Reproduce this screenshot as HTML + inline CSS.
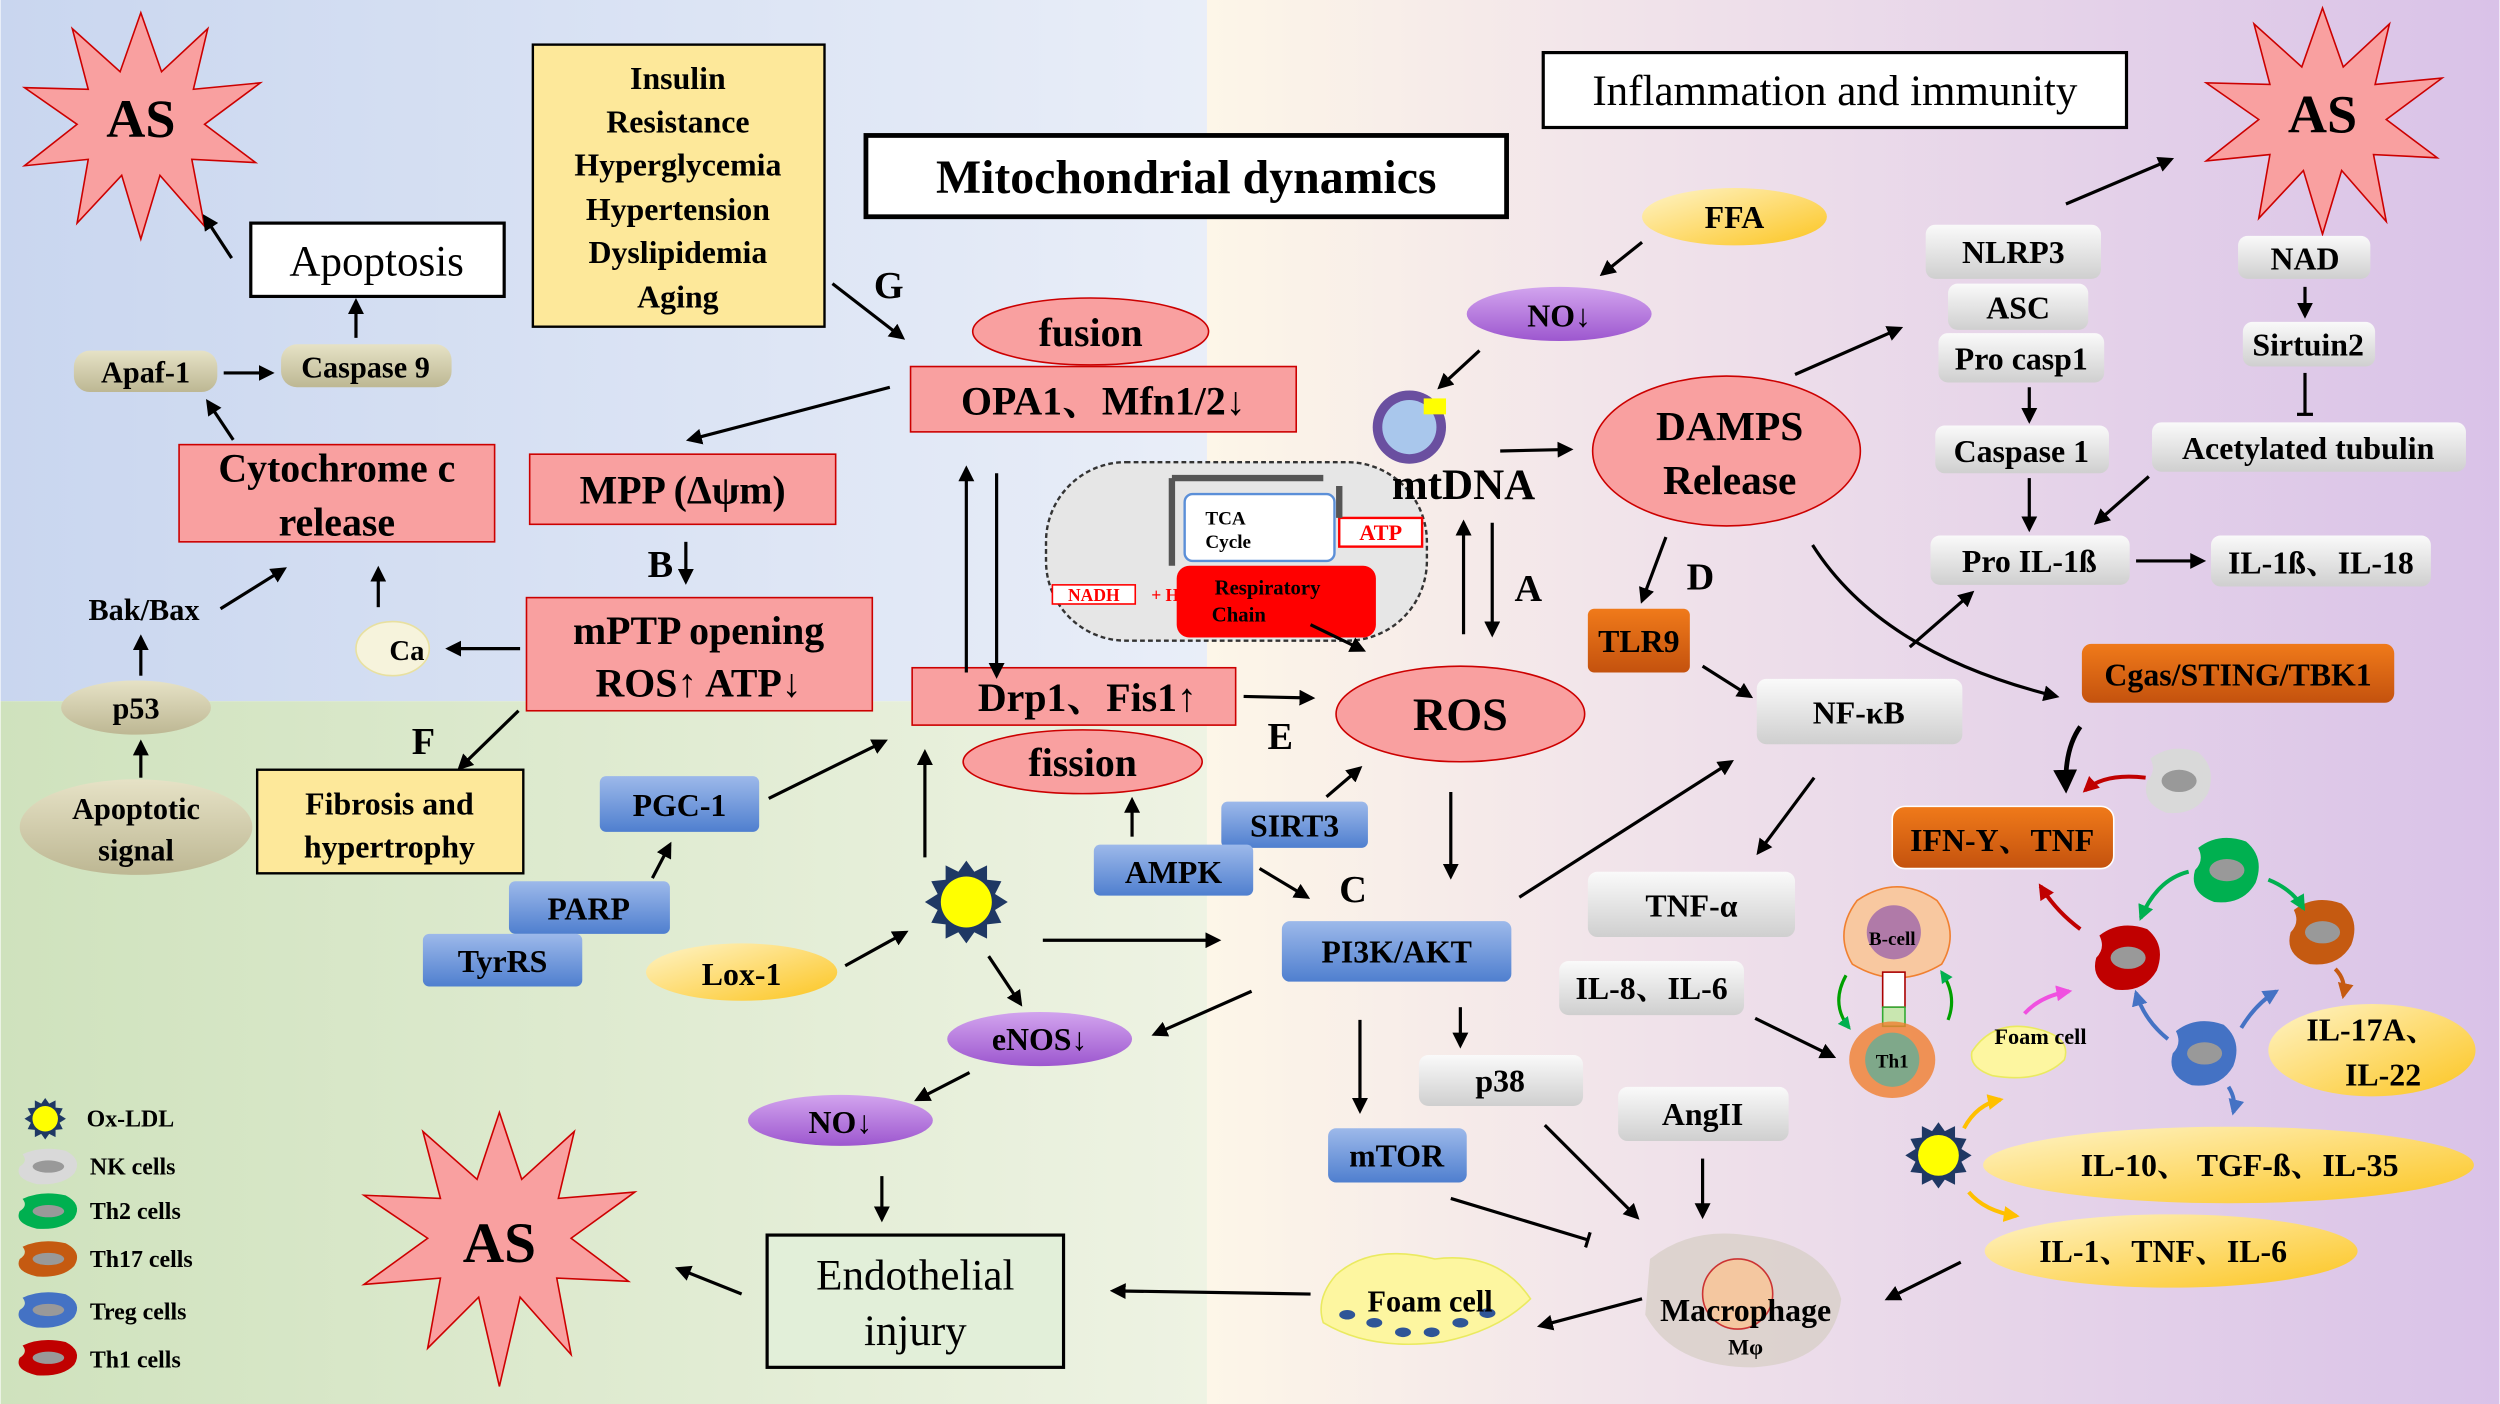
<!DOCTYPE html>
<html><head><meta charset="utf-8"><style>
html,body{margin:0;padding:0;width:2500px;height:1404px;overflow:hidden}
svg{display:block}
text{font-family:"Liberation Serif","Noto Serif CJK SC",serif;font-weight:bold;fill:#000}
</style></head><body>
<svg width="2500" height="1404" viewBox="0 0 1568 881" xmlns="http://www.w3.org/2000/svg">
<defs>
<linearGradient id="bgL" x1="0" y1="0" x2="1" y2="0"><stop offset="0" stop-color="#c9d6ef"/><stop offset="1" stop-color="#e9eef8"/></linearGradient>
<linearGradient id="bgG" x1="0" y1="0" x2="1" y2="0"><stop offset="0" stop-color="#cfe2bd"/><stop offset="1" stop-color="#eef3e3"/></linearGradient>
<linearGradient id="bgR" x1="0" y1="0" x2="1" y2="0"><stop offset="0" stop-color="#fdf6e8"/><stop offset="0.35" stop-color="#f0e2ea"/><stop offset="1" stop-color="#d9c2e8"/></linearGradient>
<linearGradient id="gray" x1="0" y1="0" x2="0" y2="1"><stop offset="0" stop-color="#fafafa"/><stop offset="1" stop-color="#cfcfcf"/></linearGradient>
<linearGradient id="tan" x1="0" y1="0" x2="0" y2="1"><stop offset="0" stop-color="#e6e2c6"/><stop offset="1" stop-color="#bdb793"/></linearGradient>
<linearGradient id="blue" x1="0" y1="0" x2="0" y2="1"><stop offset="0" stop-color="#9db9ea"/><stop offset="1" stop-color="#4f7fcf"/></linearGradient>
<linearGradient id="yel" x1="0" y1="0" x2="1" y2="1"><stop offset="0" stop-color="#fff4c8"/><stop offset="1" stop-color="#fcc520"/></linearGradient>
<linearGradient id="pur" x1="0" y1="0" x2="0" y2="1"><stop offset="0" stop-color="#d2a4ee"/><stop offset="1" stop-color="#9d57cf"/></linearGradient>
<linearGradient id="org" x1="0" y1="0" x2="0" y2="1"><stop offset="0" stop-color="#f07a1a"/><stop offset="1" stop-color="#c4520e"/></linearGradient>
<marker id="ar" viewBox="0 0 10 10" refX="8" refY="5" markerWidth="5" markerHeight="5" orient="auto"><path d="M0,0L10,5L0,10z" fill="#000"/></marker>
<marker id="arR" viewBox="0 0 10 10" refX="8" refY="5" markerWidth="4" markerHeight="4" orient="auto"><path d="M0,0L10,5L0,10z" fill="#c00000"/></marker>
<marker id="arG" viewBox="0 0 10 10" refX="8" refY="5" markerWidth="4" markerHeight="4" orient="auto"><path d="M0,0L10,5L0,10z" fill="#00b050"/></marker>
<marker id="arB" viewBox="0 0 10 10" refX="8" refY="5" markerWidth="4" markerHeight="4" orient="auto"><path d="M0,0L10,5L0,10z" fill="#4472c4"/></marker>
<marker id="arO" viewBox="0 0 10 10" refX="8" refY="5" markerWidth="4" markerHeight="4" orient="auto"><path d="M0,0L10,5L0,10z" fill="#c55a11"/></marker>
<marker id="arY" viewBox="0 0 10 10" refX="8" refY="5" markerWidth="4" markerHeight="4" orient="auto"><path d="M0,0L10,5L0,10z" fill="#ffc000"/></marker>
<marker id="arP" viewBox="0 0 10 10" refX="8" refY="5" markerWidth="4" markerHeight="4" orient="auto"><path d="M0,0L10,5L0,10z" fill="#f050e0"/></marker>
<marker id="bar" viewBox="0 0 10 10" refX="5" refY="5" markerWidth="5" markerHeight="5" orient="auto"><path d="M5,0V10" stroke="#000" stroke-width="2"/></marker>
<g id="sun"><polygon points="0,-26 5,-19 13,-23 13,-14 22,-13 18,-5 26,0 18,5 22,13 13,14 13,23 5,19 0,26 -5,19 -13,23 -13,14 -22,13 -18,5 -26,0 -18,-5 -22,-13 -13,-14 -13,-23 -5,-19" fill="#1f3864"/><circle r="16" fill="#ffff00"/></g>
<g id="cell"><path d="M-18,-14 Q-5,-24 12,-18 Q24,-8 18,8 Q10,22 -8,20 Q-24,14 -20,0 Q-14,-6 -18,-14z"/><ellipse cx="0" cy="0" rx="11" ry="7" fill="#999"/></g>
</defs>
<rect x="0" y="0" width="757" height="440" fill="url(#bgL)"/>
<rect x="0" y="440" width="757" height="441" fill="url(#bgG)"/>
<rect x="757" y="0" width="811" height="881" fill="url(#bgR)"/>

<!-- stars -->
<polygon points="88,8 101,45 130,18 121,56 163,52 128,78 160,102 120,100 128,142 100,110 88,150 76,110 48,140 55,100 15,104 48,78 15,55 55,56 45,18 75,45" fill="#f9a0a0" stroke="#c00" stroke-width="1"/>
<text x="88" y="86" font-size="34" text-anchor="middle">AS</text>
<polygon points="1457,5 1470,42 1499,15 1490,53 1532,49 1497,75 1529,99 1489,97 1497,139 1469,107 1457,147 1445,107 1417,137 1424,97 1384,101 1417,75 1384,52 1424,53 1414,15 1444,42" fill="#f9a0a0" stroke="#c00" stroke-width="1"/>
<text x="1457" y="83" font-size="34" text-anchor="middle">AS</text>
<polygon points="313,698 327,740 360,710 350,752 398,748 358,777 394,804 349,802 358,850 326,814 313,870 300,814 268,846 276,802 228,806 268,777 228,750 276,752 265,710 299,740" fill="#f9a0a0" stroke="#c00" stroke-width="1"/>
<text x="313" y="792" font-size="36" text-anchor="middle">AS</text>

<!-- boxes -->
<rect x="157" y="140" width="159" height="46" fill="#fff" stroke="#000" stroke-width="2"/>
<text x="236" y="173" font-size="27" font-weight="normal" text-anchor="middle" style="font-weight:normal">Apoptosis</text>
<rect x="334" y="28" width="183" height="177" fill="#fde89a" stroke="#000" stroke-width="1.5"/>
<g font-size="20" text-anchor="middle"><text x="425" y="56">Insulin</text><text x="425" y="83">Resistance</text><text x="425" y="110">Hyperglycemia</text><text x="425" y="138">Hypertension</text><text x="425" y="165">Dyslipidemia</text><text x="425" y="193">Aging</text></g>
<rect x="543" y="85" width="402" height="51" fill="#fff" stroke="#000" stroke-width="3"/>
<text x="744" y="121" font-size="30" text-anchor="middle">Mitochondrial dynamics</text>
<rect x="968" y="33" width="366" height="47" fill="#fff" stroke="#000" stroke-width="2"/>
<text x="1151" y="66" font-size="27" text-anchor="middle" style="font-weight:normal">Inflammation and immunity</text>

<rect x="46" y="220" width="90" height="26" rx="10" fill="url(#tan)"/><text x="91" y="240" font-size="19" text-anchor="middle">Apaf-1</text>
<rect x="176" y="216" width="107" height="27" rx="10" fill="url(#tan)"/><text x="229" y="237" font-size="19" text-anchor="middle">Caspase 9</text>
<rect x="112" y="279" width="198" height="61" fill="#f9a0a0" stroke="#c00" stroke-width="1"/>
<text x="211" y="302" font-size="25" text-anchor="middle">Cytochrome c</text><text x="211" y="336" font-size="25" text-anchor="middle">release</text>
<rect x="332" y="285" width="192" height="44" fill="#f9a0a0" stroke="#c00" stroke-width="1"/>
<text x="428" y="316" font-size="25" text-anchor="middle">MPP (Δψm)</text>
<text x="406" y="362" font-size="24">B</text><line x1="430" y1="340" x2="430" y2="365" stroke="#000" stroke-width="2" marker-end="url(#ar)"/>
<rect x="330" y="375" width="217" height="71" fill="#f9a0a0" stroke="#c00" stroke-width="1"/>
<text x="438" y="404" font-size="25" text-anchor="middle">mPTP opening</text><text x="438" y="437" font-size="25" text-anchor="middle">ROS↑ ATP↓</text>
<ellipse cx="246" cy="407" rx="23" ry="17" fill="#f6f3dc" stroke="#e8e0a0"/><text x="255" y="414" font-size="18" text-anchor="middle">Ca</text>
<text x="90" y="389" font-size="19" text-anchor="middle">Bak/Bax</text>
<ellipse cx="85" cy="444" rx="47" ry="17" fill="url(#tan)"/><text x="85" y="451" font-size="19" text-anchor="middle">p53</text>
<ellipse cx="85" cy="519" rx="73" ry="30" fill="url(#tan)"/><text x="85" y="514" font-size="19" text-anchor="middle">Apoptotic</text><text x="85" y="540" font-size="19" text-anchor="middle">signal</text>
<text x="258" y="473" font-size="24">F</text>
<rect x="161" y="483" width="167" height="65" fill="#fde89a" stroke="#000" stroke-width="1.5"/>
<text x="244" y="511" font-size="20" text-anchor="middle">Fibrosis and</text><text x="244" y="538" font-size="20" text-anchor="middle">hypertrophy</text>

<rect x="376" y="487" width="100" height="35" rx="4" fill="url(#blue)"/><text x="426" y="512" font-size="20" text-anchor="middle">PGC-1</text>
<rect x="319" y="553" width="101" height="33" rx="4" fill="url(#blue)"/><text x="369" y="577" font-size="20" text-anchor="middle">PARP</text>
<rect x="265" y="586" width="100" height="33" rx="4" fill="url(#blue)"/><text x="315" y="610" font-size="20" text-anchor="middle">TyrRS</text>
<rect x="766" y="503" width="92" height="29" rx="4" fill="url(#blue)"/><text x="812" y="525" font-size="20" text-anchor="middle">SIRT3</text>
<rect x="686" y="530" width="100" height="32" rx="4" fill="url(#blue)"/><text x="736" y="554" font-size="20" text-anchor="middle">AMPK</text>
<text x="548" y="187" font-size="24">G</text>

<ellipse cx="684" cy="208" rx="74" ry="21" fill="#f9a0a0" stroke="#c00"/><text x="684" y="217" font-size="25" text-anchor="middle">fusion</text>
<rect x="571" y="230" width="242" height="41" fill="#f9a0a0" stroke="#c00"/><text x="692" y="260" font-size="25" text-anchor="middle">OPA1、Mfn1/2↓</text>
<rect x="572" y="419" width="203" height="36" fill="#f9a0a0" stroke="#c00"/><text x="682" y="446" font-size="25" text-anchor="middle">Drp1、Fis1↑</text>
<ellipse cx="679" cy="478" rx="75" ry="20" fill="#f9a0a0" stroke="#c00"/><text x="679" y="487" font-size="25" text-anchor="middle">fission</text>
<text x="795" y="470" font-size="24">E</text>

<!-- mitochondrion -->
<rect x="656" y="290" width="239" height="112" rx="50" fill="#e6e6e6" stroke="#333" stroke-dasharray="3,2" stroke-width="1.5"/>
<rect x="738" y="355" width="125" height="45" rx="8" fill="#f00"/>
<rect x="743" y="310" width="94" height="42" rx="5" fill="#fff" stroke="#5b8fd8" stroke-width="1.5"/>
<text x="756" y="329" font-size="12">TCA</text><text x="756" y="344" font-size="12">Cycle</text>
<rect x="840" y="325" width="52" height="18" fill="#fff" stroke="#f00" stroke-width="1.5"/><text x="866" y="339" font-size="14" text-anchor="middle" fill="#f00" style="fill:#f00">ATP</text>
<text x="795" y="373" font-size="13" text-anchor="middle">Respiratory</text><text x="777" y="390" font-size="13" text-anchor="middle">Chain</text>
<rect x="660" y="367" width="52" height="12" fill="#fff" stroke="#f00"/><text x="686" y="377" font-size="11" text-anchor="middle" style="fill:#f00">NADH</text><text x="722" y="377" font-size="11" style="fill:#f00">+ H</text>
<path d="M735,300H830M735,300V355M840,305V325" stroke="#555" stroke-width="4" fill="none"/>
<circle cx="884" cy="268" r="23" fill="#6a4fa0"/><circle cx="884" cy="268" r="17" fill="#a9c7ec"/><rect x="893" y="250" width="14" height="10" fill="#ff0"/>
<text x="918" y="313" font-size="27" text-anchor="middle">mtDNA</text>
<text x="950" y="377" font-size="24">A</text>
<ellipse cx="916" cy="448" rx="78" ry="30" fill="#f9a0a0" stroke="#c00"/><text x="916" y="458" font-size="29" text-anchor="middle">ROS</text>
<ellipse cx="1083" cy="283" rx="84" ry="47" fill="#f9a0a0" stroke="#c00"/><text x="1085" y="276" font-size="26" text-anchor="middle">DAMPS</text><text x="1085" y="310" font-size="26" text-anchor="middle">Release</text>
<ellipse cx="1088" cy="136" rx="58" ry="18" fill="url(#yel)"/><text x="1088" y="143" font-size="20" text-anchor="middle">FFA</text>
<ellipse cx="978" cy="197" rx="58" ry="17" fill="url(#pur)"/><text x="978" y="205" font-size="20" text-anchor="middle">NO↓</text>
<text x="1058" y="370" font-size="24">D</text>
<rect x="996" y="382" width="64" height="40" rx="4" fill="url(#org)"/><text x="1028" y="409" font-size="20" text-anchor="middle">TLR9</text>
<rect x="1102" y="426" width="129" height="41" rx="6" fill="url(#gray)"/><text x="1166" y="454" font-size="20" text-anchor="middle">NF-κB</text>

<g font-size="20" text-anchor="middle">
<rect x="1208" y="141" width="110" height="34" rx="6" fill="url(#gray)"/><text x="1263" y="165">NLRP3</text>
<rect x="1222" y="178" width="88" height="29" rx="6" fill="url(#gray)"/><text x="1266" y="200">ASC</text>
<rect x="1216" y="209" width="104" height="31" rx="6" fill="url(#gray)"/><text x="1268" y="232">Pro casp1</text>
<rect x="1214" y="267" width="109" height="30" rx="6" fill="url(#gray)"/><text x="1268" y="290">Caspase 1</text>
<rect x="1211" y="336" width="125" height="31" rx="6" fill="url(#gray)"/><text x="1273" y="359">Pro IL-1ß</text>
<rect x="1387" y="336" width="138" height="32" rx="6" fill="url(#gray)"/><text x="1456" y="360">IL-1ß、IL-18</text>
<rect x="1404" y="148" width="83" height="27" rx="6" fill="url(#gray)"/><text x="1446" y="169">NAD</text>
<rect x="1407" y="202" width="83" height="28" rx="6" fill="url(#gray)"/><text x="1448" y="223">Sirtuin2</text>
<rect x="1350" y="265" width="197" height="31" rx="6" fill="url(#gray)"/><text x="1448" y="288">Acetylated tubulin</text>
<rect x="1306" y="404" width="196" height="37" rx="6" fill="url(#org)"/><text x="1404" y="430">Cgas/STING/TBK1</text>
<rect x="1187" y="506" width="139" height="39" rx="8" fill="url(#org)" stroke="#fff"/><text x="1256" y="534">IFN-Y、TNF</text>
<rect x="804" y="578" width="144" height="38" rx="5" fill="url(#blue)"/><text x="876" y="604">PI3K/AKT</text>
<rect x="996" y="547" width="130" height="41" rx="6" fill="url(#gray)"/><text x="1061" y="575">TNF-α</text>
<rect x="978" y="603" width="116" height="34" rx="6" fill="url(#gray)"/><text x="1036" y="627">IL-8、IL-6</text>
<rect x="1015" y="682" width="107" height="34" rx="6" fill="url(#gray)"/><text x="1068" y="706">AngII</text>
<rect x="890" y="662" width="103" height="32" rx="6" fill="url(#gray)"/><text x="941" y="685">p38</text>
<rect x="833" y="708" width="87" height="34" rx="5" fill="url(#blue)"/><text x="876" y="732">mTOR</text>
<ellipse cx="465" cy="610" rx="60" ry="18" fill="url(#yel)"/><text x="465" y="618">Lox-1</text>
<ellipse cx="652" cy="652" rx="58" ry="17" fill="url(#pur)"/><text x="652" y="659">eNOS↓</text>
<ellipse cx="527" cy="703" rx="58" ry="16" fill="url(#pur)"/><text x="527" y="711">NO↓</text>
<ellipse cx="1488" cy="659" rx="65" ry="29" fill="url(#yel)"/><text x="1488" y="653">IL-17A、</text><text x="1495" y="681">IL-22</text>
<ellipse cx="1398" cy="731" rx="154" ry="24" fill="url(#yel)"/><text x="1405" y="738">IL-10、 TGF-ß、IL-35</text>
<ellipse cx="1362" cy="785" rx="117" ry="23" fill="url(#yel)"/><text x="1357" y="792">IL-1、TNF、IL-6</text>
</g>
<text x="840" y="566" font-size="24">C</text>
<use href="#sun" x="606" y="566"/>
<use href="#sun" x="1216" y="725" transform="translate(1216 725) scale(0.8) translate(-1216 -725)"/>

<rect x="481" y="775" width="186" height="83" fill="#e2efd9" stroke="#000" stroke-width="2"/>
<text x="574" y="809" font-size="27" text-anchor="middle" style="font-weight:normal">Endothelial</text><text x="574" y="844" font-size="27" text-anchor="middle" style="font-weight:normal">injury</text>

<!-- foam cell -->
<path d="M838,800 Q860,780 900,790 Q940,785 960,815 Q940,835 905,842 Q860,848 830,830 Q825,815 838,800z" fill="#fdf6a0" stroke="#eaea60"/>
<g fill="#2f5597"><ellipse cx="845" cy="825" rx="5" ry="3"/><ellipse cx="862" cy="830" rx="5" ry="3"/><ellipse cx="880" cy="836" rx="5" ry="3"/><ellipse cx="898" cy="836" rx="5" ry="3"/><ellipse cx="916" cy="830" rx="5" ry="3"/><ellipse cx="933" cy="824" rx="5" ry="3"/></g>
<text x="897" y="823" font-size="19" text-anchor="middle">Foam cell</text>
<path d="M1035,790 Q1060,770 1095,775 Q1145,780 1155,815 Q1150,855 1100,858 Q1050,858 1032,825z" fill="#d8d0c8" opacity="0.8"/>
<circle cx="1090" cy="812" r="22" fill="#f4c7a0" stroke="#c33"/>
<text x="1095" y="829" font-size="20" text-anchor="middle">Macrophage</text><text x="1095" y="850" font-size="14" text-anchor="middle">Mφ</text>

<!-- B cell / Th1 -->
<path d="M1165,565 Q1190,548 1215,565 Q1230,585 1218,605 Q1190,622 1162,605 Q1150,585 1165,565z" fill="#f8c8a0" stroke="#f08030"/>
<circle cx="1188" cy="585" r="17" fill="#b07aa8"/><text x="1187" y="593" font-size="12" text-anchor="middle">B-cell</text>
<rect x="1181" y="610" width="14" height="22" fill="#fff" stroke="#a00"/>
<rect x="1181" y="632" width="14" height="12" fill="#c9e7b0" stroke="#3a3"/>
<ellipse cx="1187" cy="665" rx="27" ry="24" fill="#f08030" opacity="0.8"/><circle cx="1187" cy="665" r="17" fill="#7fa88a"/><text x="1187" y="670" font-size="12" text-anchor="middle">Th1</text>
<path d="M1158,612 Q1148,630 1160,645" stroke="#00a000" stroke-width="2" fill="none" marker-end="url(#arG)"/>
<path d="M1222,640 Q1228,625 1218,610" stroke="#00a000" stroke-width="2" fill="none" marker-end="url(#arG)"/>
<path d="M1237,660 Q1250,640 1275,645 Q1300,650 1295,665 Q1280,680 1250,675 Q1235,670 1237,660z" fill="#fdf6a0" stroke="#eaea60"/>
<text x="1280" y="655" font-size="14" text-anchor="middle">Foam cell</text>

<!-- T cells -->
<use href="#cell" x="1367" y="490" fill="#d9d9d9"/>
<use href="#cell" x="1397" y="546" fill="#00b050"/>
<use href="#cell" x="1335" y="601" fill="#c00000"/>
<use href="#cell" x="1457" y="585" fill="#c55a11"/>
<use href="#cell" x="1383" y="661" fill="#4472c4"/>
<g fill="none" stroke-width="2.5">
<path d="M1346,488 Q1320,485 1308,496" stroke="#c00000" marker-end="url(#arR)"/>
<path d="M1305,583 Q1290,572 1280,556" stroke="#c00000" marker-end="url(#arR)"/>
<path d="M1373,547 Q1353,552 1343,576" stroke="#00b050" marker-end="url(#arG)"/>
<path d="M1423,552 Q1438,558 1445,570" stroke="#00b050" marker-end="url(#arG)"/>
<path d="M1465,608 Q1472,615 1470,625" stroke="#c55a11" marker-end="url(#arO)"/>
<path d="M1360,652 Q1345,640 1340,623" stroke="#4472c4" marker-end="url(#arB)"/>
<path d="M1406,645 Q1415,630 1428,622" stroke="#4472c4" marker-end="url(#arB)"/>
<path d="M1398,682 Q1403,690 1401,698" stroke="#4472c4" marker-end="url(#arB)"/>
<path d="M1270,636 Q1280,625 1298,622" stroke="#f050e0" marker-end="url(#arP)"/>
<path d="M1232,708 Q1240,693 1255,690" stroke="#ffc000" marker-end="url(#arY)"/>
<path d="M1235,748 Q1245,760 1265,763" stroke="#ffc000" marker-end="url(#arY)"/>
</g>

<!-- legend -->
<use href="#sun" transform="translate(28 702) scale(0.5)"/>
<g font-size="15"><text x="54" y="707">Ox-LDL</text><text x="56" y="737">NK cells</text><text x="56" y="765">Th2 cells</text><text x="56" y="795">Th17 cells</text><text x="56" y="828">Treg cells</text><text x="56" y="858">Th1 cells</text></g>
<use href="#cell" transform="translate(30 732) scale(0.9 0.55)" fill="#d9d9d9"/>
<use href="#cell" transform="translate(30 760) scale(0.9 0.55)" fill="#00b050"/>
<use href="#cell" transform="translate(30 790) scale(0.9 0.55)" fill="#c55a11"/>
<use href="#cell" transform="translate(30 822) scale(0.9 0.55)" fill="#4472c4"/>
<use href="#cell" transform="translate(30 852) scale(0.9 0.55)" fill="#c00000"/>

<!-- arrows -->
<g stroke="#000" stroke-width="2" fill="none" marker-end="url(#ar)">
<line x1="145" y1="162" x2="128" y2="136"/>
<line x1="223" y1="212" x2="223" y2="189"/>
<line x1="140" y1="234" x2="170" y2="234"/>
<line x1="146" y1="276" x2="130" y2="252"/>
<line x1="558" y1="243" x2="432" y2="276"/>
<line x1="326" y1="407" x2="281" y2="407"/>
<line x1="237" y1="381" x2="237" y2="357"/>
<line x1="138" y1="382" x2="178" y2="357"/>
<line x1="88" y1="424" x2="88" y2="400"/>
<line x1="88" y1="488" x2="88" y2="466"/>
<line x1="325" y1="446" x2="288" y2="482"/>
<line x1="522" y1="178" x2="566" y2="212"/>
<line x1="606" y1="422" x2="606" y2="294"/>
<line x1="625" y1="297" x2="625" y2="424"/>
<line x1="918" y1="398" x2="918" y2="328"/>
<line x1="936" y1="328" x2="936" y2="398"/>
<line x1="780" y1="437" x2="823" y2="438"/>
<line x1="822" y1="392" x2="855" y2="408"/>
<line x1="928" y1="220" x2="903" y2="243"/>
<line x1="1030" y1="152" x2="1005" y2="172"/>
<line x1="941" y1="283" x2="985" y2="282"/>
<line x1="1126" y1="235" x2="1192" y2="206"/>
<line x1="1045" y1="337" x2="1030" y2="377"/>
<line x1="1068" y1="418" x2="1098" y2="437"/>
<path d="M1137,342 Q1180,410 1290,437"/>
<line x1="1296" y1="128" x2="1362" y2="100"/>
<line x1="1273" y1="243" x2="1273" y2="264"/>
<line x1="1273" y1="300" x2="1273" y2="332"/>
<line x1="1340" y1="352" x2="1382" y2="352"/>
<line x1="1348" y1="299" x2="1315" y2="328"/>
<line x1="1446" y1="180" x2="1446" y2="198"/>
<line x1="1198" y1="406" x2="1237" y2="372"/>
<path d="M1305,456 Q1295,470 1296,495" stroke-width="3"/>
<line x1="1138" y1="488" x2="1103" y2="535"/>
<line x1="910" y1="497" x2="910" y2="550"/>
<line x1="953" y1="563" x2="1086" y2="478"/>
<line x1="482" y1="501" x2="555" y2="465"/>
<line x1="409" y1="551" x2="420" y2="530"/>
<line x1="580" y1="538" x2="580" y2="472"/>
<line x1="710" y1="525" x2="710" y2="502"/>
<line x1="790" y1="545" x2="820" y2="563"/>
<line x1="832" y1="500" x2="853" y2="482"/>
<line x1="530" y1="606" x2="568" y2="585"/>
<line x1="654" y1="590" x2="764" y2="590"/>
<line x1="620" y1="600" x2="640" y2="630"/>
<line x1="785" y1="622" x2="724" y2="649"/>
<line x1="608" y1="673" x2="575" y2="690"/>
<line x1="553" y1="738" x2="553" y2="765"/>
<line x1="465" y1="812" x2="425" y2="796"/>
<line x1="822" y1="812" x2="698" y2="810"/>
<line x1="916" y1="632" x2="916" y2="656"/>
<line x1="853" y1="640" x2="853" y2="697"/>
<line x1="969" y1="706" x2="1027" y2="764"/>
<line x1="1068" y1="727" x2="1068" y2="763"/>
<line x1="1101" y1="639" x2="1150" y2="663"/>
<line x1="1030" y1="815" x2="966" y2="832"/>
<line x1="1230" y1="792" x2="1184" y2="815"/>
</g>
<g stroke="#000" stroke-width="2" fill="none" marker-end="url(#bar)">
<line x1="1446" y1="234" x2="1446" y2="260"/>
<line x1="910" y1="752" x2="996" y2="778"/>
</g>
</svg>
</body></html>
